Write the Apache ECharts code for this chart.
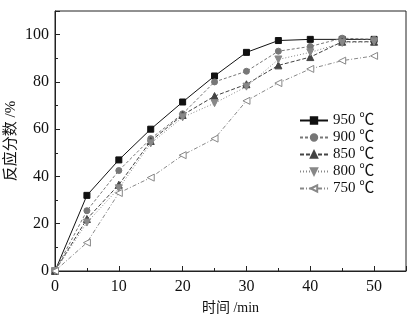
<!DOCTYPE html>
<html>
<head>
<meta charset="utf-8">
<script src="https://cdn.jsdelivr.net/npm/echarts@6/dist/echarts.min.js"></script>
<style>
  html, body { margin: 0; padding: 0; background: #fff; }
  #chart { width: 416px; height: 323px; }
</style>
</head>
<body>
<div id="chart"></div>
<script>
const times = [0, 5, 10, 15, 20, 25, 30, 35, 40, 45, 50];

const names = ['950 ℃', '900 ℃', '850 ℃', '800 ℃', '750 ℃'];
const v950 = [0, 32, 47, 60, 71.5, 82.5, 92.5, 97.5, 98, 98, 98];
const v900 = [0, 25.5, 42.5, 56, 66.5, 80, 84.5, 93, 95, 98.5, 98];
const v850 = [0, 22, 36.5, 55, 66, 74, 79, 87, 90.5, 97, 97];
const v800 = [0, 20.5, 35, 54, 65, 71, 78, 89.5, 92.5, 96.5, 97];
const v750 = [0, 12, 33, 39.5, 49, 56, 72, 79.5, 85.5, 89, 91];

const xTicks = [0, 10, 20, 30, 40, 50];
const yTicks = [0, 20, 40, 60, 80, 100];

const serif = "'Liberation Serif', 'Noto Sans CJK SC', serif";

function pairs(vals) {
    return times.map((t, i) => [t, vals[i]]);
}

const styles = [
    { data: v950, symbol: 'rect', color: '#111', line: 'solid', size: 6 },
    { data: v900, symbol: 'circle', color: '#777', line: [3, 2], size: 6 },
    { data: v850, symbol: 'triangle', color: '#444', line: [4, 2], size: 7 },
    { data: v800, symbol: 'path://M0,0L10,0L5,9Z', color: '#888', line: [1, 2], size: 7 },
    { data: v750, symbol: 'path://M0,5L9,0L9,10Z', color: '#888', line: [4, 2, 1, 2], size: 7, hollow: true }
];

let series = [];
for (let i = 0; i < names.length; i++) {
    let s = styles[i];
    series.push({
        name: names[i],
        type: 'line',
        data: pairs(s.data),
        symbol: s.symbol,
        symbolSize: s.size,
        showSymbol: true,
        lineStyle: { color: s.color, width: 1, type: s.line },
        itemStyle: {
            color: s.hollow ? '#fff' : s.color,
            borderColor: s.color,
            borderWidth: 1
        },
        emphasis: { disabled: true },
        animation: false
    });
}

let chartDom = document.getElementById('chart');
let myChart = echarts.init(chartDom);

let option = {
    backgroundColor: '#fff',
    grid: {
        left: 55, right: 10, top: 11, bottom: 52,
        outerBoundsMode: 'none',
        containLabel: false,
        show: true, borderColor: '#222', borderWidth: 1
    },
    legend: {
        orient: 'vertical',
        left: 294,
        top: 108,
        itemGap: 2,
        itemWidth: 28,
        itemHeight: 8,
        data: names,
        textStyle: { fontFamily: serif, fontSize: 15, color: '#111' }
    },
    xAxis: {
        type: 'value',
        min: 0, max: 55, interval: 10,
        name: '时间 /min',
        nameLocation: 'middle',
        nameGap: 30,
        nameMoveOverlap: false,
        nameTextStyle: { fontFamily: serif, fontSize: 14, color: '#111' },
        axisLine: { lineStyle: { color: '#222' } },
        axisTick: { inside: true, length: 5, lineStyle: { color: '#222' } },
        minorTick: { show: true, splitNumber: 2, length: 3, lineStyle: { color: '#222' } },
        splitLine: { show: false },
        axisLabel: {
            fontFamily: serif, fontSize: 16, color: '#111', margin: 8,
            formatter: v => xTicks.includes(v) ? String(v) : ''
        }
    },
    yAxis: {
        type: 'value',
        min: 0, max: 110, interval: 20,
        name: '反应分数 /%',
        nameLocation: 'middle',
        nameGap: 36,
        nameMoveOverlap: false,
        nameRotate: 90,
        nameTextStyle: { fontFamily: serif, fontSize: 15, color: '#111' },
        axisLine: { lineStyle: { color: '#222' } },
        axisTick: { inside: true, length: 5, lineStyle: { color: '#222' } },
        minorTick: { show: true, splitNumber: 2, length: 3, lineStyle: { color: '#222' } },
        splitLine: { show: false },
        axisLabel: {
            fontFamily: serif, fontSize: 16, color: '#111', margin: 6,
            formatter: v => yTicks.includes(v) ? String(v) : ''
        }
    },
    series
};

option && myChart.setOption(option);
</script>
</body>
</html>
